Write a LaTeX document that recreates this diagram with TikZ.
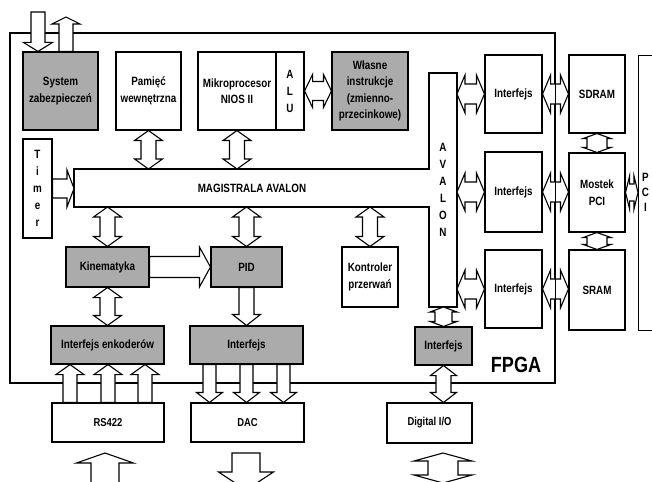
\documentclass[tikz,border=0pt]{standalone}
\usepackage{fontspec}
\setmainfont{Liberation Sans}[FakeStretch=0.82]
\usetikzlibrary{calc}

% block arrows: #1 start, #2 end, #3 shaft half width, #4 head half width, #5 head length
\newcommand{\dav}[5]{\draw[blockarrow] let \p1=#1, \p2=#2 in
 (\x1,\y1) -- (\x1+#4,\y1-#5) -- (\x1+#3,\y1-#5) -- (\x1+#3,\y2+#5) -- (\x1+#4,\y2+#5) -- (\x1,\y2)
 -- (\x1-#4,\y2+#5) -- (\x1-#3,\y2+#5) -- (\x1-#3,\y1-#5) -- (\x1-#4,\y1-#5) -- cycle;}
\newcommand{\sav}[5]{\draw[blockarrow] let \p1=#1, \p2=#2, \n2={sign(\y2-\y1)*#5} in
 (\x1-#3,\y1) -- (\x1+#3,\y1) -- ({\x1+#3},{\y2-\n2}) -- ({\x1+#4},{\y2-\n2}) -- (\x1,\y2)
 -- ({\x1-#4},{\y2-\n2}) -- ({\x1-#3},{\y2-\n2}) -- cycle;}
\newcommand{\dah}[5]{\draw[blockarrow] let \p1=#1, \p2=#2 in
 (\x1,\y1) -- (\x1+#5,\y1+#4) -- (\x1+#5,\y1+#3) -- (\x2-#5,\y1+#3) -- (\x2-#5,\y1+#4) -- (\x2,\y1)
 -- (\x2-#5,\y1-#4) -- (\x2-#5,\y1-#3) -- (\x1+#5,\y1-#3) -- (\x1+#5,\y1-#4) -- cycle;}
\newcommand{\sah}[5]{\draw[blockarrow] let \p1=#1, \p2=#2 in
 (\x1,\y1-#3) -- (\x1,\y1+#3) -- (\x2-#5,\y1+#3) -- (\x2-#5,\y1+#4) -- (\x2,\y1)
 -- (\x2-#5,\y1-#4) -- (\x2-#5,\y1-#3) -- cycle;}

\begin{document}
\begin{tikzpicture}[x=1pt, y=-1pt,
  blk/.style={draw, line width=1.1pt, fill=white, inner sep=0pt, align=center,
    font=\bfseries\fontsize{12}{16.5}\selectfont},
  grayblk/.style={blk, fill=black!33},
  lowblk/.style={blk, font=\bfseries\fontsize{11.5}{14}\selectfont},
  letters/.style={inner sep=0pt, align=center, font=\bfseries\fontsize{12}{17}\selectfont},
  blockarrow/.style={draw, line width=1.1pt, fill=white, line join=miter}]
\clip (0,0) rectangle (652,481);

% FPGA
\node[draw, line width=1.1pt, minimum width=545pt, minimum height=350pt, inner sep=0pt] (fpga) at (282.5,208) {};
\node[inner sep=0pt, font=\bfseries\fontsize{22}{24}\selectfont] (fpgatxt) at (516,365) {FPGA};

% magistrala
\draw[line width=1.1pt, fill=white] (74,169) coordinate (bus-nw) -- (429,169) -- (429,73) -- (457,73) coordinate (av-ne)
  -- (457,307) coordinate (av-se) -- (429,307) -- (429,207) -- (74,207) coordinate (bus-sw) -- cycle;
\node[letters] (bustxt) at (252,188) {MAGISTRALA AVALON};
\node[letters] (avtxt) at (443,190) {A\\V\\A\\L\\O\\N};

% bloki
\node[grayblk, minimum width=75pt, minimum height=78pt] (sys) at (60.5,91) {System\\zabezpieczeń};
\node[blk, minimum width=65pt, minimum height=78pt] (pam) at (148.5,91) {Pamięć\\wewnętrzna};
\node[blk, minimum width=78pt, minimum height=78pt] (nios) at (237,91) {Mikroprocesor\\NIOS II};
\node[blk, minimum width=28pt, minimum height=78pt, font=\bfseries\fontsize{12}{17}\selectfont] (alu) at (290,91) {A\\L\\U};
\node[grayblk, minimum width=76pt, minimum height=78pt] (wlasne) at (370,91) {Własne\\instrukcje\\(zmienno-\\przecinkowe)};
\node[blk, minimum width=29pt, minimum height=99pt, font=\bfseries\fontsize{12}{17}\selectfont] (timer) at (37.5,188.5) {T\\i\\m\\e\\r};
\node[grayblk, minimum width=83pt, minimum height=40pt] (kin) at (107.5,267) {Kinematyka};
\node[grayblk, minimum width=71pt, minimum height=40pt] (pid) at (246.5,267) {PID};
\node[blk, minimum width=56pt, minimum height=60pt] (kontr) at (370,277) {Kontroler\\przerwań};
\node[grayblk, minimum width=113pt, minimum height=38pt] (enk) at (107.5,345) {Interfejs enkoderów};
\node[grayblk, minimum width=113pt, minimum height=38pt] (ifdac) at (246.5,345) {Interfejs};
\node[grayblk, minimum width=57pt, minimum height=38pt] (ifio) at (443.5,346) {Interfejs};
\node[blk, minimum width=57pt, minimum height=78pt] (if1) at (513.5,94) {Interfejs};
\node[blk, minimum width=57pt, minimum height=80pt] (if2) at (513.5,192) {Interfejs};
\node[blk, minimum width=57pt, minimum height=78pt] (if3) at (513.5,289) {Interfejs};
\node[blk, minimum width=56pt, minimum height=78pt] (sdram) at (597,94) {SDRAM};
\node[blk, minimum width=56pt, minimum height=79pt] (mostek) at (597,192.5) {Mostek\\PCI};
\node[blk, minimum width=56pt, minimum height=80pt] (sram) at (597,290) {SRAM};
\node[blk, minimum width=70pt, minimum height=275pt, anchor=north west] (pci) at (638,55) {};
\node[letters, font=\bfseries\fontsize{12}{15}\selectfont] (pcitxt) at (645.5,192) {P\\C\\I};
\node[lowblk, minimum width=112pt, minimum height=39pt] (rs) at (108,422.5) {RS422};
\node[lowblk, minimum width=113pt, minimum height=39pt] (dac) at (247.5,422.5) {DAC};
\node[lowblk, minimum width=85pt, minimum height=40pt] (dio) at (429.5,423) {Digital I/O};

% strzalki
\coordinate (sysin) at (38,12);
\coordinate (sysout) at (66,17);
\sav{(sysin)}{(sysin |- sys.north)}{7pt}{14.5pt}{9pt}
\sav{(sysout |- sys.north)}{(sysout)}{7pt}{14pt}{7pt}
\dav{(pam.south)}{(pam.south |- bus-nw)}{7.5pt}{14pt}{10pt}
\dav{(nios.south)}{(nios.south |- bus-nw)}{7.5pt}{14pt}{10pt}
\dah{(alu.east)}{(wlasne.west)}{9.5pt}{16.5pt}{8pt}
\sah{(timer.east)}{(timer.east -| bus-nw)}{9.5pt}{18.5pt}{7pt}
\dav{(kin.north |- bus-sw)}{(kin.north)}{7.5pt}{14pt}{10pt}
\dav{(pid.north |- bus-sw)}{(pid.north)}{7.5pt}{14pt}{10pt}
\dav{(kontr.north |- bus-sw)}{(kontr.north)}{7.5pt}{14pt}{10pt}
\sah{(kin.east)}{(pid.west)}{10.5pt}{20pt}{11pt}
\dav{(kin.south)}{(kin.south |- enk.north)}{7.5pt}{14pt}{10pt}
\sav{(pid.south)}{(pid.south |- ifdac.north)}{7.5pt}{14pt}{11pt}
\foreach \iface in {if1,if2,if3} {
  \dah{(\iface.west -| av-ne)}{(\iface.west)}{10pt}{19pt}{8pt}
}
\dah{(if1.east)}{(sdram.west)}{10pt}{19pt}{8pt}
\dah{(if2.east)}{(mostek.west)}{10pt}{19pt}{8pt}
\dah{(if3.east)}{(sram.west)}{10pt}{19pt}{8pt}
\dav{(sdram.south)}{(mostek.north)}{10pt}{14pt}{5pt}
\dav{(mostek.south)}{(sram.north)}{10pt}{14pt}{5pt}
\dah{(mostek.east)}{(mostek.east -| pci.west)}{8.5pt}{16.5pt}{4pt}
\dav{(ifio.north |- av-se)}{(ifio.north)}{8.5pt}{13.5pt}{5pt}
\dav{(ifio.south)}{(ifio.south |- dio.north)}{7.5pt}{13pt}{10pt}
\foreach \dx in {-38,0,37} {
  \coordinate (t) at ($(rs.north)+(\dx,0)$);
  \sav{(t)}{(t |- enk.south)}{7pt}{14pt}{10pt}
}
\foreach \dx in {-37,0,37} {
  \coordinate (t) at ($(ifdac.south)+(\dx,0)$);
  \sav{(t)}{(t |- dac.north)}{6.5pt}{13pt}{10pt}
}
\coordinate (rsin) at (105,490);
\coordinate (rsin-tip) at (105,453);
\sav{(rsin)}{(rsin-tip)}{14pt}{28.5pt}{10pt}
\coordinate (dacout) at (246,453);
\coordinate (dacout-tip) at (246,490);
\sav{(dacout)}{(dacout-tip)}{14pt}{27.5pt}{18pt}
\coordinate (dioext-a) at (443,453);
\coordinate (dioext-b) at (443,483);
\dav{(dioext-a)}{(dioext-b)}{15pt}{29pt}{8pt}

\draw[line width=1.1pt] (fpga.north east) -- (fpga.south east);
\end{tikzpicture}
\end{document}
